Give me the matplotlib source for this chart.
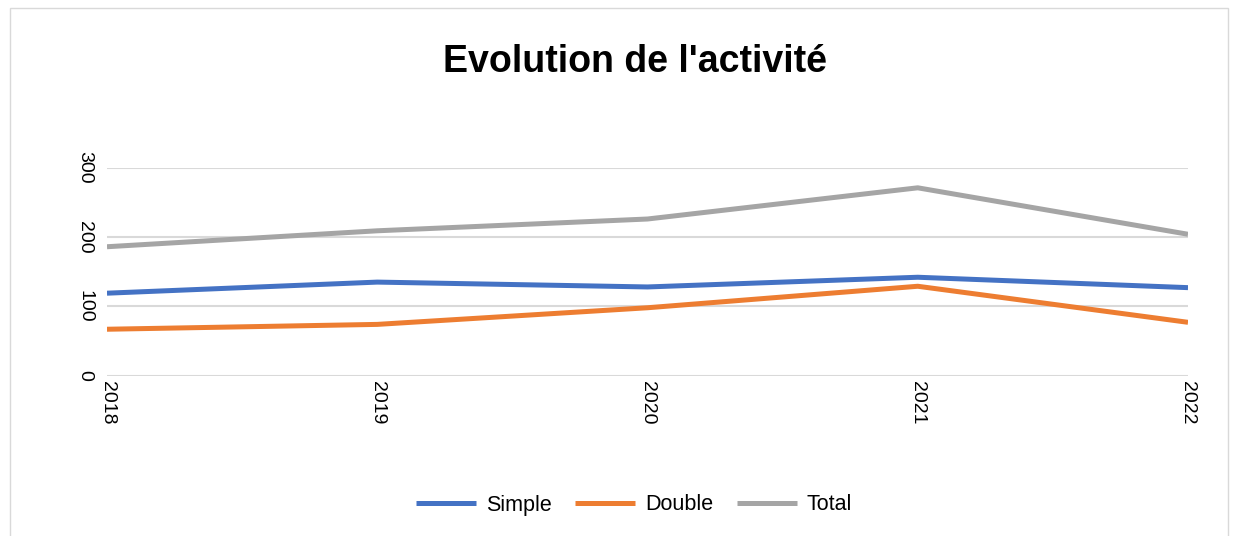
import matplotlib.pyplot as plt
from matplotlib.patches import Rectangle

plt.rcParams['font.family'] = ['Liberation Sans', 'DejaVu Sans']

# data
years = ["2018", "2019", "2020", "2021", "2022"]
simple = [119, 135, 128, 142, 127]
double = [67, 74, 98, 129, 77]
total = [186, 209, 226, 271, 204]

colors = {"Simple": "#4472C4", "Double": "#ED7D31", "Total": "#A5A5A5"}

fig = plt.figure(figsize=(12.4, 5.36), dpi=100)
ax = fig.add_axes([107 / 1240, 1 - 375.7 / 536, (1188 - 107) / 1240, (375.7 - 167.7) / 536])

x = list(range(len(years)))
ax.plot(x, simple, color=colors["Simple"], lw=3.6, label="Simple", solid_capstyle="butt")
ax.plot(x, double, color=colors["Double"], lw=3.6, label="Double", solid_capstyle="butt")
ax.plot(x, total, color=colors["Total"], lw=3.6, label="Total", solid_capstyle="butt")

ax.set_xlim(0, len(years) - 1)
ax.set_ylim(0, 300)
ax.set_yticks([0, 100, 200, 300])
ax.set_xticks(x)
ax.set_xticklabels(years, rotation=-90, fontsize=14)
ax.set_yticklabels(["0", "100", "200", "300"], rotation=-90, fontsize=14, va="center")
ax.tick_params(length=0, pad=10)
ax.tick_params(axis="x", pad=4)
ax.grid(axis="y", color="#D9D9D9", lw=1.5)
ax.set_axisbelow(True)
for s in ax.spines.values():
    s.set_visible(False)

fig.text(635 / 1240, 1 - 62 / 536, "Evolution de l'activité", ha="center", va="center",
         fontsize=27, fontweight="bold")

fig.legend(loc="center", bbox_to_anchor=(634 / 1240, 1 - 505 / 536), ncol=3, frameon=False,
           fontsize=15.5, handlelength=2.8, columnspacing=1.1, handletextpad=0.45)

# light chart border
fig.patches.append(Rectangle((10 / 1240, -0.01), (1228 - 10) / 1240, 1 - 8 / 536 + 0.01,
                             transform=fig.transFigure, fill=False, edgecolor="#D9D9D9", lw=1))

fig.savefig("out.png", dpi=100)
